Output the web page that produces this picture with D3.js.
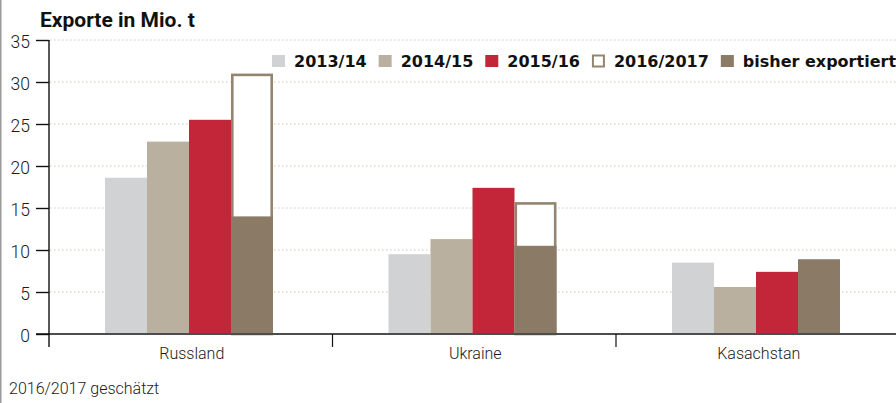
<!DOCTYPE html>
<html>
<head>
<meta charset="utf-8">
<script src="https://cdn.jsdelivr.net/npm/d3@7"></script>
<style>
  html, body { margin: 0; padding: 0; background: #fff; }
  svg { display: block; }
</style>
</head>
<body>
<svg id="chart" width="896" height="403"></svg>
<script>
// ---- data ----
const categories = ["Russland", "Ukraine", "Kasachstan"];
const v2013_14 = [18.6, 9.5, 8.5];
const v2014_15 = [22.9, 11.3, 5.6];
const v2015_16 = [25.5, 17.4, 7.4];
const v2016_17 = [31.0, 15.7, null];   // geschätzt
const vBisher  = [14.0, 10.5, 8.9];    // bisher exportiert
const seriesNames = ["2013/14", "2014/15", "2015/16", "2016/2017", "bisher exportiert"];
const yTicks = [0, 5, 10, 15, 20, 25, 30, 35];
const title = "Exporte in Mio. t";
const footnote = "2016/2017 geschätzt";

// ---- styles ----
const C = {
  gray: "#d1d2d4", beige: "#b9b0a0", red: "#c42639", brown: "#8b7a65",
  outline: "#958470", grid: "#cfc6b4", zero: "#4d4d4d", axis: "#111", text: "#1a1a1a"
};
const svg = d3.select("#chart");

// left border
svg.append("rect").attr("x", 0).attr("y", 0).attr("width", 1.5).attr("height", 403).attr("fill", "#9a9a9a");

const y = d3.scaleLinear().domain([0, 35]).range([334, 40]);
const x0 = d3.scaleBand().domain(categories).range([49, 899.5]).padding(0);
const slots = ["2013/14", "2014/15", "2015/16", "2016/2017"];
const x1 = d3.scaleBand().domain(slots).range([56, 56 + 168]).padding(0);

// gridlines
svg.append("g").selectAll("line").data(yTicks.filter(d => d > 0)).join("line")
  .attr("x1", 50).attr("x2", 896)
  .attr("y1", d => y(d)).attr("y2", d => y(d))
  .attr("stroke", C.grid).attr("stroke-width", 1).attr("stroke-dasharray", "1.5,2.5");

// bars
const plain = [
  { key: "2013/14", vals: v2013_14, color: C.gray },
  { key: "2014/15", vals: v2014_15, color: C.beige },
  { key: "2015/16", vals: v2015_16, color: C.red }
];
const gBars = svg.append("g");
plain.forEach(s => {
  gBars.append("g").selectAll("rect").data(categories.map((c, i) => ({ c, v: s.vals[i] }))).join("rect")
    .attr("x", d => x0(d.c) + x1(s.key))
    .attr("width", x1.bandwidth())
    .attr("y", d => y(d.v))
    .attr("height", d => y(0) - y(d.v))
    .attr("fill", s.color);
});
// estimated 2016/2017 outline
const sw = 2.6;
gBars.append("g").selectAll("rect")
  .data(categories.map((c, i) => ({ c, v: v2016_17[i] })).filter(d => d.v != null)).join("rect")
  .attr("x", d => x0(d.c) + x1("2016/2017") + sw / 2)
  .attr("width", x1.bandwidth() - sw)
  .attr("y", d => y(d.v) + sw / 2)
  .attr("height", d => y(0) - y(d.v) - sw / 2)
  .attr("fill", "#fff").attr("stroke", C.outline).attr("stroke-width", sw);
// bisher exportiert
gBars.append("g").selectAll("rect")
  .data(categories.map((c, i) => ({ c, v: vBisher[i] }))).join("rect")
  .attr("x", d => x0(d.c) + x1("2016/2017"))
  .attr("width", x1.bandwidth())
  .attr("y", d => y(d.v))
  .attr("height", d => y(0) - y(d.v))
  .attr("fill", C.brown);

// zero line
svg.append("line").attr("x1", 36).attr("x2", 896).attr("y1", y(0)).attr("y2", y(0))
  .attr("stroke", C.zero).attr("stroke-width", 2);

// y axis
const yAxis = d3.axisLeft(y).tickValues(yTicks).tickSize(13).tickPadding(6).tickFormat(d3.format("d"));
const gy = svg.append("g").attr("transform", "translate(49,0)").call(yAxis);
gy.select(".domain").remove();
gy.selectAll(".tick line").attr("stroke", C.axis).attr("stroke-width", 1.4);
gy.selectAll(".tick text").attr("fill", C.text)
  .style("font-family", "Roboto, 'Noto Sans', sans-serif").style("font-weight", 300)
  .style("font-size", "17.5px").attr("dy", "0.62em").attr("y", -3);
svg.append("line").attr("x1", 49).attr("x2", 49).attr("y1", y(35)).attr("y2", 347)
  .attr("stroke", C.axis).attr("stroke-width", 1.4);

// x axis (category separators + labels)
const sepX = [x0("Ukraine"), x0("Kasachstan")];
svg.append("g").selectAll("line").data(sepX).join("line")
  .attr("x1", d => d).attr("x2", d => d).attr("y1", y(0)).attr("y2", 347)
  .attr("stroke", C.axis).attr("stroke-width", 1.2);
svg.append("g").selectAll("text").data(categories).join("text")
  .attr("x", d => x0(d) + x0.bandwidth() / 2 + 1)
  .attr("y", 359)
  .attr("text-anchor", "middle")
  .attr("fill", C.text)
  .style("font-family", "Roboto, 'Noto Sans', sans-serif").style("font-weight", 300)
  .style("font-size", "16px")
  .text(d => d);

// title
svg.append("text").attr("x", 40).attr("y", 27).text(title)
  .attr("fill", "#111")
  .style("font-family", "Roboto, sans-serif").style("font-weight", 700).style("font-size", "21px");

// footnote
svg.append("text").attr("x", 9).attr("y", 394).text(footnote)
  .attr("fill", C.text)
  .style("font-family", "Roboto, sans-serif").style("font-weight", 300).style("font-size", "16px");

// legend
const legendColors = [C.gray, C.beige, C.red, null, C.brown];
const gl = svg.append("g");
let lx = 272;
seriesNames.forEach((name, i) => {
  if (legendColors[i]) {
    gl.append("rect").attr("x", lx).attr("y", 55).attr("width", 13).attr("height", 12).attr("fill", legendColors[i]);
  } else {
    gl.append("rect").attr("x", lx + 1).attr("y", 55.5).attr("width", 11).attr("height", 11)
      .attr("fill", "#fff").attr("stroke", C.outline).attr("stroke-width", 2);
  }
  const t = gl.append("text").attr("x", lx + 22).attr("y", 67).text(name)
    .attr("fill", "#111")
    .style("font-family", "'DejaVu Sans', sans-serif").style("font-weight", 700).style("font-size", "16px");
  lx = lx + 22 + t.node().getComputedTextLength() + 12;
});
</script>
</body>
</html>
